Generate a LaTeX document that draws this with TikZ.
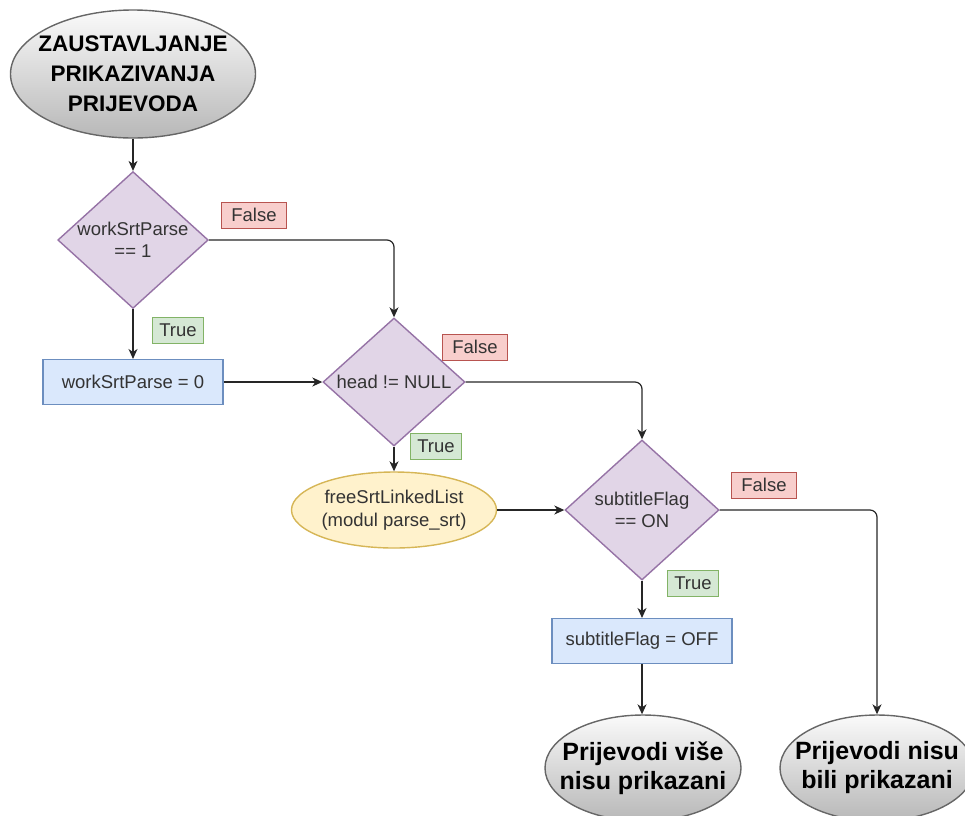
\documentclass[tikz,border=0pt]{standalone}
\usepackage{fontspec}
\setmainfont{Liberation Sans}
\usetikzlibrary{shapes.geometric,arrows.meta}
\definecolor{dfill}{HTML}{E1D5E7}
\definecolor{dline}{HTML}{9673A6}
\definecolor{bfill}{HTML}{DAE8FC}
\definecolor{bline}{HTML}{6C8EBF}
\definecolor{yfill}{HTML}{FFF2CC}
\definecolor{yline}{HTML}{D6B656}
\definecolor{rfill}{HTML}{F8CECC}
\definecolor{rline}{HTML}{B85450}
\definecolor{gfill}{HTML}{D5E8D4}
\definecolor{gline}{HTML}{82B366}
\definecolor{eline}{HTML}{666666}
\definecolor{txt}{HTML}{333333}
\tikzset{
  base/.style={font=\fontsize{18.5}{22.5}\selectfont, text=txt, align=center, line width=1.4pt},
  dia/.style={base, diamond, draw=dline, fill=dfill, inner sep=0pt, aspect=1.1},
  proc/.style={base, rectangle, draw=bline, fill=bfill, minimum width=180pt, minimum height=45pt, inner sep=0pt, line width=1.1pt},
  yell/.style={base, ellipse, draw=yline, fill=yfill, inner sep=0pt, minimum width=204pt, minimum height=76pt},
  term/.style={ellipse, draw=eline, line width=1.4pt, top color=black!2, bottom color=black!28, inner sep=0pt},
  termtext/.style={text=black, align=center, inner sep=0pt},
  lab/.style={base, rectangle, minimum height=26pt, inner sep=0pt, line width=0.9pt},
  flab/.style={lab, draw=rline, fill=rfill, minimum width=65pt},
  tlab/.style={lab, draw=gline, fill=gfill, minimum width=51pt},
  arr/.style={draw=black!85, line width=1.2pt, -{Stealth[length=10pt,width=9pt,inset=3pt]}, rounded corners=7pt},
}
\begin{document}
\begin{tikzpicture}[x=1pt,y=-1pt]
\useasboundingbox (0,0) rectangle (965,815);
\node[term, minimum width=245pt, minimum height=128pt, label={[termtext, font=\bfseries\fontsize{22.5}{30}\selectfont]center:ZAUSTAVLJANJE\\PRIKAZIVANJA\\PRIJEVODA}] (start) at (133,74) {};
\node[dia, minimum width=142pt, minimum height=128pt] (d1) at (133,240) {workSrtParse\\== 1};
\node[proc] (b1) at (133,382) {workSrtParse = 0};
\node[dia, minimum width=142pt, minimum height=128pt] (d2) at (394,382) {head != NULL};
\node[yell] (y1) at (394,510) {freeSrtLinkedList\\(modul parse\_srt)};
\node[dia, minimum width=154pt, minimum height=140pt] (d3) at (642,510) {subtitleFlag\\== ON};
\node[proc] (b2) at (642,641) {subtitleFlag = OFF};
\node[term, minimum width=196pt, minimum height=106pt, label={[termtext, font=\bfseries\fontsize{25}{29}\selectfont]center:Prijevodi više\\nisu prikazani}] (e1) at (643,768) {};
\node[term, minimum width=194pt, minimum height=106pt, label={[termtext, font=\bfseries\fontsize{25}{29}\selectfont]center:Prijevodi nisu\\bili prikazani}] (e2) at (877,768) {};

\node[flab] (f1) at (254,215) {False};
\node[tlab] (t1) at (178,330) {True};
\node[flab] (f2) at (475,347) {False};
\node[tlab] (t2) at (436,446) {True};
\node[flab] (f3) at (764,485) {False};
\node[tlab] (t3) at (693,583) {True};

\draw[arr] (start) -- (d1);
\draw[arr] (d1.south) -- (b1.north);
\draw[arr] (d1.east) -| (d2.north);
\draw[arr] (b1.east) -- (d2.west);
\draw[arr] (d2.south) -- (y1.north);
\draw[arr] (d2.east) -| (d3.north);
\draw[arr] (y1.east) -- (d3.west);
\draw[arr] (d3.south) -- (b2.north);
\draw[arr] (d3.east) -| (e2.north);
\draw[arr] (b2.south) -- (e1.north -| b2.south);
\end{tikzpicture}
\end{document}
